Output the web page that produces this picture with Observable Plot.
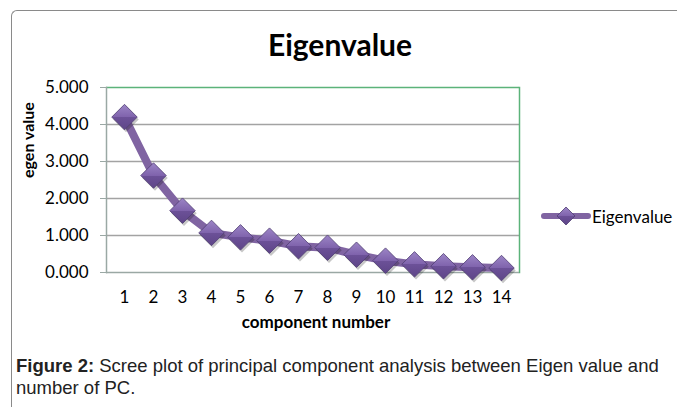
<!DOCTYPE html>
<html>
<head>
<meta charset="utf-8">
<script src="https://cdn.jsdelivr.net/npm/d3@7"></script>
<script src="https://cdn.jsdelivr.net/npm/@observablehq/plot@0.6"></script>
<style>
  html, body { margin: 0; padding: 0; background: #fff; }
  #wrap { position: relative; width: 677px; height: 407px; overflow: hidden; background: #fff; }
  #frame { position: absolute; left: 11px; top: 10px; width: 700px; height: 420px;
           border-top: 1.5px solid #8a8a8a; border-left: 1.5px solid #8a8a8a; border-top-left-radius: 6px; }
  #chart { position: absolute; left: 0; top: 0; }
  #title { position: absolute; left: 0; width: 680px; top: 26px; text-align: center;
           font: bold 30px Lato, "Open Sans", sans-serif; color: #000; }
  #legend { position: absolute; left: 540px; top: 204px; display: flex; align-items: center;
            font: 17px Lato, "Open Sans", sans-serif; color: #000; }
  #caption { position: absolute; left: 16px; top: 355px; width: 660px;
             font: 18.5px "Liberation Sans", Arial, sans-serif; line-height: 22px; color: #222; }
  #caption div { white-space: nowrap; }
</style>
</head>
<body>
<div id="wrap">
  <div id="frame"></div>
  <div id="chart"></div>
  <div id="title">Eigenvalue</div>
  <div id="legend"></div>
  <div id="caption">
    <div><b>Figure 2:</b><span> Scree plot of principal component analysis between Eigen value and</span></div>
    <div>number of PC.</div>
  </div>
</div>
<script>
const components = [1, 2, 3, 4, 5, 6, 7, 8, 9, 10, 11, 12, 13, 14];
const eigenvalues = [4.20, 2.62, 1.67, 1.07, 0.95, 0.86, 0.71, 0.67, 0.48, 0.32, 0.22, 0.17, 0.14, 0.12];
const yTicks = [0, 1, 2, 3, 4, 5];
const seriesName = "Eigenvalue";
const xLabel = "component number";
const yLabel = "egen value";

const data = components.map((c, i) => ({pc: c, value: eigenvalues[i]}));
const font = "Lato, 'Open Sans', sans-serif";
const purple = "#8064a2";

const chart = Plot.plot({
  width: 677,
  height: 345,
  marginLeft: 106,
  marginRight: 158,
  marginTop: 87,
  marginBottom: 73,
  style: {fontFamily: font, background: "transparent", overflow: "visible"},
  x: {type: "point", domain: components, padding: 0.5},
  y: {domain: [0, 5]},
  marks: [
    Plot.ruleY(yTicks.filter(d => d > 0 && d < 5), {stroke: "#a3a3a3", strokeWidth: 1.5}),
    Plot.ruleY([5], {stroke: "#5cb37a", strokeWidth: 1.5}),
    Plot.frame({anchor: "right", stroke: "#5cb37a", strokeWidth: 1.5}),
    Plot.ruleY([0], {stroke: "#9aa8a4", strokeWidth: 1.5}),
    Plot.axisY({ticks: yTicks, tickFormat: d => d.toFixed(3), tickSize: 6, tickPadding: 12,
                fontSize: 17, label: null, stroke: "#9aa8a4", color: "#000"}),
    Plot.axisX({tickSize: 0, tickPadding: 18, fontSize: 17, label: null, color: "#000"}),
    Plot.frame({anchor: "left", stroke: "#9aa8a4", strokeWidth: 1.5}),
    Plot.text([yLabel], {frameAnchor: "left", dx: -78, dy: -2, rotate: -90, fontSize: 16, fontWeight: "bold", fill: "#000"}),
    Plot.text([xLabel], {frameAnchor: "bottom", dy: 55, dx: 3, fontSize: 17, fontWeight: "bold", fill: "#000"}),
    Plot.line(data, {x: "pc", y: "value", stroke: purple, strokeWidth: 8, strokeLinejoin: "round"}),
    Plot.dot(data, {x: "pc", y: "value", symbol: "diamond2", r: 11.5, fill: "#000", fillOpacity: 0.22, dx: 1.5, dy: 2.5}),
    Plot.dot(data, {x: "pc", y: "value", symbol: "diamond2", r: 11.5, fill: "url(#diag)", stroke: "#4f3d72", strokeWidth: 0.8})
  ]
});

const svg = d3.select(chart);
const defs = svg.insert("defs", ":first-child");
const g = defs.append("linearGradient").attr("id", "diag").attr("x1", 0).attr("y1", 0).attr("x2", 0).attr("y2", 1);
g.append("stop").attr("offset", "0%").attr("stop-color", "#9c85c6");
g.append("stop").attr("offset", "50%").attr("stop-color", "#7f63ac");
g.append("stop").attr("offset", "50%").attr("stop-color", "#6c5198");
g.append("stop").attr("offset", "100%").attr("stop-color", "#5e4588");

document.getElementById("chart").appendChild(chart);

// legend
const leg = d3.select("#legend");
const ls = leg.append("svg").attr("width", 52).attr("height", 24);
ls.append("line").attr("x1", 4).attr("x2", 48).attr("y1", 12).attr("y2", 12)
  .attr("stroke", purple).attr("stroke-width", 6).attr("stroke-linecap", "round");
ls.append("path").attr("d", "M26,3L35,12L26,21L17,12Z").attr("fill", "url(#diag)").attr("stroke", "#4f3d72").attr("stroke-width", 0.8);
leg.append("span").text(seriesName);
</script>
</body>
</html>
